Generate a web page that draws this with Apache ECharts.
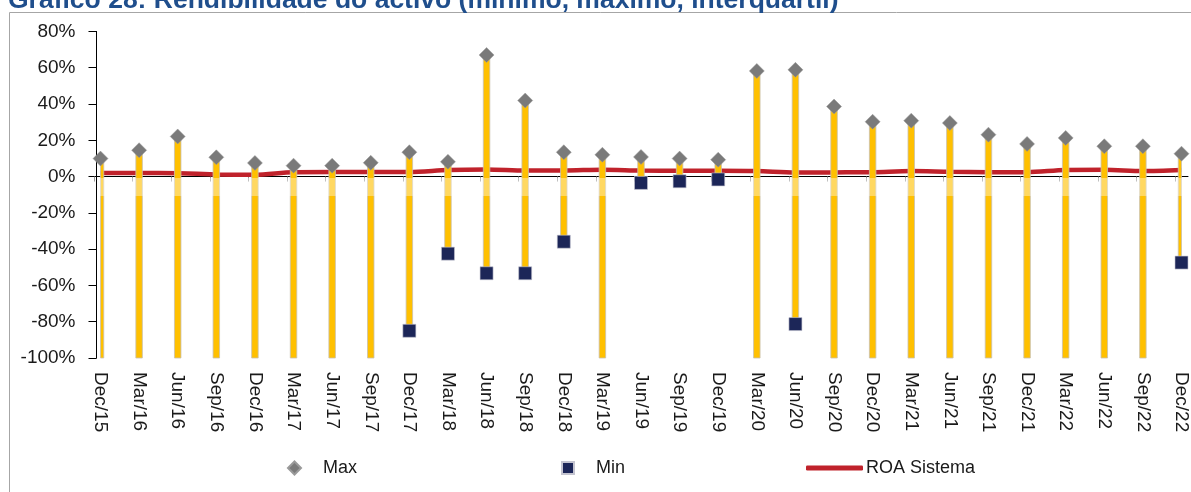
<!DOCTYPE html>
<html>
<head>
<meta charset="utf-8">
<script src="https://cdn.jsdelivr.net/npm/echarts@6/dist/echarts.min.js"></script>
<style>
  html, body { margin: 0; padding: 0; background: #fff; }
  #chart { width: 1191px; height: 492px; }
</style>
</head>
<body>
<div id="chart"></div>
<script>
// Quarterly return on assets across institutions (%), with the system ROA
const categories = ['Dec/15','Mar/16','Jun/16','Sep/16','Dec/16','Mar/17','Jun/17','Sep/17','Dec/17','Mar/18','Jun/18','Sep/18','Dec/18','Mar/19','Jun/19','Sep/19','Dec/19','Mar/20','Jun/20','Sep/20','Dec/20','Mar/21','Jun/21','Sep/21','Dec/21','Mar/22','Jun/22','Sep/22','Dec/22'];
const maxValues = [9.9, 14.5, 22.1, 10.6, 7.5, 6.0, 6.0, 7.6, 13.4, 8.1, 67.0, 41.9, 13.4, 12.0, 10.8, 9.9, 9.3, 58.2, 58.8, 38.6, 30.2, 30.8, 29.5, 23.1, 18.0, 21.3, 16.7, 16.7, 12.6];
const minValues = [-130, -130, -130, -130, -130, -130, -130, -130, -85.0, -42.5, -53.3, -53.3, -35.9, -130, -3.5, -2.6, -1.6, -130, -81.3, -130, -130, -130, -130, -130, -130, -130, -130, -130, -47.4];
const roaSistema = [2.0, 2.0, 1.8, 1.2, 1.0, 2.4, 2.5, 2.5, 2.5, 3.6, 3.9, 3.3, 3.3, 3.8, 3.3, 3.2, 3.2, 3.0, 2.2, 2.3, 2.4, 3.0, 2.6, 2.4, 2.4, 3.6, 3.7, 3.0, 3.6];
const yMin = -100, yMax = 80, yStep = 20;

const FONT = "'Liberation Sans', Arial, sans-serif";
const TEXT = '#1a1a1a';

const chart = echarts.init(document.getElementById('chart'), null, { renderer: 'canvas' });

const hiddenY = (gi) => ({
  type: 'value', gridIndex: gi, min: yMin, max: yMax, interval: yStep, show: false
});

chart.setOption({
  animation: false,
  backgroundColor: '#ffffff',
  title: {
    text: 'Gráfico 28: Rendibilidade do activo (mínimo, máximo, interquartil)',
    left: 3, top: -18,
    textStyle: { color: '#1F4E8C', fontSize: 26.5, fontWeight: 'bold', fontFamily: FONT }
  },
  graphic: [
    // outer chart frame
    { type: 'rect', z: 0, silent: true,
      shape: { x: 9.5, y: 12.5, width: 1250, height: 520 },
      style: { fill: 'none', stroke: '#A6A6A6', lineWidth: 1 } },
    // pale band just below the zero line (behind the markers)
    { type: 'rect', z: 5, silent: true,
      shape: { x: 97, y: 178, width: 1092, height: 18 },
      style: { fill: 'rgba(255,255,255,0.38)' } }
  ],
  legend: [
    { data: [{ name: 'Max', icon: 'diamond' }], left: 282, top: 454,
      itemWidth: 13, itemHeight: 13,
      textStyle: { fontSize: 18, color: TEXT, fontFamily: FONT, padding: [0, 0, 0, 17] } },
    { data: [{ name: 'Min', icon: 'rect' }], left: 556, top: 454,
      itemWidth: 12, itemHeight: 12,
      textStyle: { fontSize: 18, color: TEXT, fontFamily: FONT, padding: [0, 0, 0, 17] } },
    { data: [{ name: 'ROA Sistema', icon: 'roundRect' }], left: 801, top: 454,
      itemWidth: 57, itemHeight: 5,
      textStyle: { fontSize: 18, color: TEXT, fontFamily: FONT, padding: [0, 0, 0, -2] } }
  ],
  grid: [
    { left: 100.5, right: 9.5, top: 31.4, bottom: 134 },   // data
    { left: 94, right: 16, top: 31.4, bottom: 134 },       // category ticks
    { left: 96.5, right: 3, top: 31.4, bottom: 134 }       // zero line
  ],
  xAxis: [
    { type: 'category', gridIndex: 0, data: categories, boundaryGap: false,
      axisLine: { show: false }, axisTick: { show: false }, splitLine: { show: false },
      axisLabel: { rotate: -90, margin: 14, fontSize: 19, color: TEXT, fontFamily: FONT, interval: 0 } },
    { type: 'category', gridIndex: 1, data: categories, boundaryGap: false,
      axisLine: { show: true, onZero: true, lineStyle: { color: 'rgba(0,0,0,0)' } },
      axisTick: { show: true, length: 5, interval: 0, lineStyle: { color: '#9a9a9a', width: 1 } },
      axisLabel: { show: false }, splitLine: { show: false } },
    { type: 'category', gridIndex: 2, data: categories, boundaryGap: false,
      axisLine: { show: true, onZero: true, lineStyle: { color: '#000', width: 1 } },
      axisTick: { show: false }, axisLabel: { show: false }, splitLine: { show: false } }
  ],
  yAxis: [
    { type: 'value', gridIndex: 0, min: yMin, max: yMax, interval: yStep, offset: 4,
      axisLine: { show: true, lineStyle: { color: '#000', width: 1 } },
      axisTick: { show: true, length: 8, lineStyle: { color: '#000' } },
      splitLine: { show: false },
      axisLabel: { formatter: '{value}%', margin: 21, fontSize: 19, color: TEXT, fontFamily: FONT } },
    hiddenY(1),
    hiddenY(2)
  ],
  series: [
    {
      name: 'ROA Sistema', type: 'line', xAxisIndex: 0, yAxisIndex: 0,
      data: roaSistema, symbol: 'none', smooth: 0.3, z: 3,
      color: '#C0222B',
      lineStyle: { color: '#C0222B', width: 4.5 }
    },
    {
      name: 'Range', type: 'custom', xAxisIndex: 0, yAxisIndex: 0, z: 4,
      data: categories.map((c, i) => [i, minValues[i], maxValues[i]]),
      renderItem: function (params, api) {
        const top = api.coord([api.value(0), api.value(2)]);
        const bot = api.coord([api.value(0), api.value(1)]);
        const w = 6.5;
        const rect = echarts.graphic.clipRectByRect(
          { x: top[0] - w / 2, y: top[1], width: w, height: bot[1] - top[1] },
          { x: params.coordSys.x, y: params.coordSys.y, width: params.coordSys.width, height: params.coordSys.height }
        );
        if (!rect) return null;
        return { type: 'rect', shape: rect,
          style: { fill: '#FFC000', stroke: '#C8C0B0', lineWidth: 0.8 } };
      }
    },
    {
      name: 'Max', type: 'scatter', xAxisIndex: 0, yAxisIndex: 0, z: 6,
      data: maxValues, symbol: 'diamond', symbolSize: [15, 15], clip: true,
      color: '#7A7A7A',
      itemStyle: { color: '#7A7A7A', borderColor: '#9a9a9a', borderWidth: 0.5, opacity: 1 }
    },
    {
      name: 'Min', type: 'scatter', xAxisIndex: 0, yAxisIndex: 0, z: 6,
      data: minValues, symbol: 'rect', symbolSize: [13, 13], clip: true,
      color: '#1C2658',
      itemStyle: { color: '#1C2658', borderColor: '#C4C4D0', borderWidth: 0.6, opacity: 1 }
    }
  ]
});
</script>
</body>
</html>
